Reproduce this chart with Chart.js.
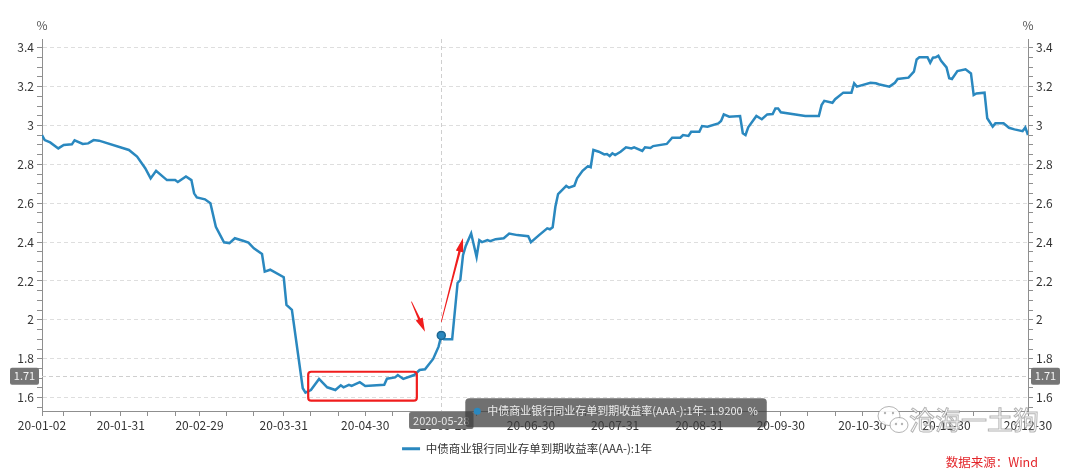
<!DOCTYPE html>
<html>
<head>
<meta charset="utf-8">
<script src="https://cdn.jsdelivr.net/npm/chart.js@4.4.1/dist/chart.umd.min.js"></script>
<style>
  html, body { margin: 0; padding: 0; background: #fff; }
  canvas { display: block; }
</style>
</head>
<body>
<canvas id="chart" width="1080" height="471"></canvas>
<script>
// Chart data (2020, MM-DD)
const year = 2020;
const seriesName = '中债商业银行同业存单到期收益率(AAA-):1年';

const dates = [
    '01-02', '01-03', '01-05', '01-08', '01-10', '01-13', '01-14', '01-17', '01-19', '01-21', '01-23',
    '02-03', '02-06', '02-09', '02-11', '02-13', '02-17', '02-20', '02-21', '02-24', '02-26', '02-27', '02-28',
    '03-02', '03-04', '03-06', '03-09', '03-11', '03-13', '03-16', '03-18', '03-20', '03-23', '03-24', '03-26', '03-31',
    '04-01', '04-03', '04-07', '04-08', '04-10', '04-13', '04-16', '04-19', '04-21', '04-22', '04-24', '04-25', '04-28', '04-30',
    '05-07', '05-08', '05-11', '05-12', '05-14', '05-18', '05-20', '05-22', '05-25', '05-27', '05-28', '05-29',
    '06-01', '06-03', '06-04', '06-05', '06-06', '06-08', '06-09', '06-10', '06-11', '06-12', '06-14', '06-15', '06-17', '06-20', '06-22', '06-25', '06-29', '06-30',
    '07-03', '07-06', '07-07', '07-08', '07-09', '07-10', '07-13', '07-14', '07-16', '07-17', '07-19', '07-21', '07-22', '07-23', '07-25', '07-27', '07-28', '07-29', '07-30', '07-31',
    '08-02', '08-04', '08-06', '08-07', '08-10', '08-11', '08-13', '08-14', '08-19', '08-21', '08-24', '08-25', '08-27', '08-28', '08-31',
    '09-01', '09-03', '09-07', '09-08', '09-09', '09-11', '09-15', '09-16', '09-17', '09-18', '09-21', '09-23', '09-25', '09-27', '09-28', '09-29', '09-30',
    '10-09', '10-14', '10-15', '10-16', '10-19', '10-20', '10-23', '10-26', '10-27', '10-28',
    '11-02', '11-04', '11-05', '11-09', '11-11', '11-12', '11-16', '11-18', '11-19', '11-20', '11-23', '11-24', '11-25', '11-26', '11-27', '11-28', '11-30',
    '12-01', '12-02', '12-04', '12-07', '12-09', '12-10', '12-11', '12-14', '12-15', '12-17', '12-18', '12-21', '12-23', '12-25', '12-28', '12-29', '12-30'
];

const yields = [
    2.950, 2.925, 2.913, 2.882, 2.900, 2.903, 2.924, 2.905, 2.908, 2.925, 2.922,
    2.874, 2.840, 2.780, 2.728, 2.767, 2.719, 2.719, 2.709, 2.738, 2.719, 2.651, 2.630,
    2.620, 2.600, 2.479, 2.399, 2.395, 2.420, 2.407, 2.397, 2.368, 2.339, 2.248, 2.258, 2.219,
    2.077, 2.051, 1.648, 1.625, 1.639, 1.696, 1.653, 1.639, 1.663, 1.653, 1.666, 1.660, 1.679, 1.660,
    1.666, 1.697, 1.704, 1.716, 1.696, 1.716, 1.742, 1.746, 1.799, 1.862, 1.920, 1.900,
    1.900, 2.190, 2.205, 2.333, 2.380, 2.444, 2.384, 2.323, 2.410, 2.400, 2.410, 2.405, 2.415, 2.420, 2.444, 2.436, 2.430, 2.400,
    2.436, 2.471, 2.466, 2.476, 2.582, 2.647, 2.689, 2.680, 2.690, 2.728, 2.767, 2.791, 2.785, 2.874, 2.865, 2.851, 2.853, 2.843, 2.857, 2.848,
    2.865, 2.888, 2.882, 2.888, 2.869, 2.888, 2.884, 2.894, 2.905, 2.937, 2.937, 2.951, 2.946, 2.968, 2.968,
    2.997, 2.994, 3.011, 3.023, 3.057, 3.045, 3.049, 2.960, 2.951, 2.991, 3.049, 3.032, 3.057, 3.059, 3.088, 3.088, 3.068,
    3.049, 3.049, 3.105, 3.127, 3.117, 3.135, 3.169, 3.169, 3.217, 3.200,
    3.220, 3.217, 3.212, 3.200, 3.220, 3.239, 3.246, 3.277, 3.340, 3.351, 3.351, 3.323, 3.349, 3.351, 3.359, 3.333, 3.299,
    3.243, 3.239, 3.280, 3.289, 3.268, 3.157, 3.165, 3.169, 3.037, 2.994, 3.011, 3.011, 2.988, 2.980, 2.971, 2.990, 2.951
];

// x axis ticks
const majorTickDates = ['01-02', '01-31', '02-29', '03-31', '04-30', '05-29', '06-30', '07-31', '08-31', '09-30', '10-30', '11-30', '12-30'];
const majorTickLabels = ['20-01-02', '20-01-31', '20-02-29', '20-03-31', '20-04-30', '20-05-29', '20-06-30', '20-07-31', '20-08-31', '20-09-30', '20-10-30', '20-11-30', '20-12-30'];
const minorTickDates = [
    '01-10', '01-20', '02-10', '02-20', '03-10', '03-20', '04-10', '04-20', '05-10', '05-20', '06-10', '06-20',
    '07-10', '07-20', '08-10', '08-20', '09-10', '09-20', '10-10', '10-20', '11-10', '11-20', '12-10', '12-20'
];

// y axis
const yMin = 1.531;
const yMax = 3.445;
const yLabelValues = [1.6, 1.8, 2, 2.2, 2.4, 2.6, 2.8, 3, 3.2, 3.4];

// hover state shown in the picture
const hoverDate = '05-28';
const crossValue = 1.71;

// red annotations (date, value)
const boxCorners = [['04-09', 1.733], ['05-19', 1.584]];
const arrowLines = [
    [['05-17', 2.094], ['05-22', 1.939]],
    [['05-28', 1.990], ['06-05', 2.421]]
];

const lineColor = '#2a88bf';
const axisColor = '#8f8f8f';
const gridColor = '#dedede';
const fontFamily = '"Noto Sans CJK SC", "Noto Sans", sans-serif';

Chart.defaults.font.family = fontFamily;
Chart.defaults.color = '#333';

function dayOf(md) {
    const [m, d] = md.split('-').map(Number);
    return (Date.UTC(year, m - 1, d) - Date.UTC(year, 0, 2)) / 86400000;
}

const points = dates.map((d, i) => ({ x: dayOf(d), y: yields[i] }));
const hoverIndex = dates.indexOf(hoverDate);

const majorDays = majorTickDates.map(dayOf);
const xTickDays = majorDays.concat(minorTickDates.map(dayOf)).sort((a, b) => a - b);

function isYMajor(v) {
    return yLabelValues.some(t => Math.abs(t - v) < 1e-6);
}

function yTicks(scale) {
    const ticks = [];
    for (let i = 31; i <= 68; i++) ticks.push({ value: Math.round(i * 5) / 100 });
    scale.ticks = ticks;
}

function roundBox(ctx, x, y, w, h, r, fill) {
    ctx.beginPath();
    ctx.roundRect(x, y, w, h, r);
    ctx.fillStyle = fill;
    ctx.fill();
}

function drawArrow(ctx, x0, y0, x1, y1) {
    const dx = x1 - x0, dy = y1 - y0, len = Math.hypot(dx, dy);
    const ux = dx / len, uy = dy / len, nx = -uy, ny = ux;
    const head = 14, hw = 3.8;
    const bx = x1 - ux * head, by = y1 - uy * head;
    ctx.beginPath();
    ctx.moveTo(x0 + nx * 0.4, y0 + ny * 0.4);
    ctx.lineTo(bx + nx * 1.2, by + ny * 1.2);
    ctx.lineTo(bx + nx * hw, by + ny * hw);
    ctx.lineTo(x1, y1);
    ctx.lineTo(bx - nx * hw, by - ny * hw);
    ctx.lineTo(bx - nx * 1.2, by - ny * 1.2);
    ctx.lineTo(x0 - nx * 0.4, y0 - ny * 0.4);
    ctx.closePath();
    ctx.fill();
}

// Crosshair, annotations, tooltip and watermark
const decorPlugin = {
    id: 'decor',
    beforeDatasetsDraw(chart) {
        const { ctx, chartArea: a, scales: { x, y } } = chart;
        const px = Math.round(x.getPixelForValue(dayOf(hoverDate))) + 0.5;
        const py = Math.round(y.getPixelForValue(crossValue)) + 0.5;
        ctx.save();
        ctx.strokeStyle = '#cfcfcf';
        ctx.lineWidth = 1;
        ctx.setLineDash([4, 3]);
        ctx.beginPath();
        ctx.moveTo(px, a.top);
        ctx.lineTo(px, a.bottom);
        ctx.moveTo(a.left, py);
        ctx.lineTo(a.right, py);
        ctx.stroke();
        ctx.restore();
    },
    afterDatasetsDraw(chart) {
        const { ctx, scales: { x, y } } = chart;
        ctx.save();
        ctx.strokeStyle = '#f01d1d';
        ctx.fillStyle = '#f01d1d';
        ctx.lineWidth = 2.2;
        const x0 = x.getPixelForValue(dayOf(boxCorners[0][0]));
        const y0 = y.getPixelForValue(boxCorners[0][1]);
        const x1 = x.getPixelForValue(dayOf(boxCorners[1][0]));
        const y1 = y.getPixelForValue(boxCorners[1][1]);
        ctx.beginPath();
        ctx.roundRect(x0, y0, x1 - x0, y1 - y0, 3);
        ctx.stroke();
        arrowLines.forEach(([from, to]) => {
            drawArrow(ctx,
                x.getPixelForValue(dayOf(from[0])), y.getPixelForValue(from[1]),
                x.getPixelForValue(dayOf(to[0])), y.getPixelForValue(to[1]));
        });
        ctx.restore();
    },
    afterDraw(chart) {
        const { ctx, chartArea: a, scales: { x, y } } = chart;
        const px = x.getPixelForValue(dayOf(hoverDate));
        const py = y.getPixelForValue(crossValue);
        ctx.save();

        // unit labels
        ctx.font = '12px ' + fontFamily;
        ctx.fillStyle = '#555';
        ctx.textAlign = 'center';
        ctx.textBaseline = 'middle';
        ctx.fillText('%', a.left, 25);
        ctx.fillText('%', a.right, 25);

        // crosshair value boxes
        ctx.font = '11px ' + fontFamily;
        const crossText = crossValue.toFixed(2);
        roundBox(ctx, a.left - 32, py - 8.5, 29, 17, 2, '#767676');
        roundBox(ctx, a.right + 3, py - 8.5, 29, 17, 2, '#767676');
        ctx.fillStyle = '#f2f2f2';
        ctx.fillText(crossText, a.left - 17.5, py);
        ctx.fillText(crossText, a.right + 17.5, py);

        // date box on the x axis
        const dateText = year + '-' + hoverDate;
        const dw = ctx.measureText(dateText).width + 8;
        roundBox(ctx, px - dw / 2, a.bottom + 1, dw, 17, 2, '#737373');
        ctx.fillStyle = '#e6e6e6';
        ctx.fillText(dateText, px, a.bottom + 9.5);

        // tooltip
        const tipText = seriesName + ': ' + yields[hoverIndex].toFixed(4) + '  %';
        const tx = px + 24, ty = py + 22;
        const tw = ctx.measureText(tipText).width + 31;
        roundBox(ctx, tx, ty, tw, 29, 4, 'rgba(62, 62, 62, 0.74)');
        ctx.beginPath();
        ctx.arc(tx + 12, ty + 13, 3.5, 0, Math.PI * 2);
        ctx.fillStyle = lineColor;
        ctx.fill();
        ctx.fillStyle = '#ececec';
        ctx.textAlign = 'left';
        ctx.fillText(tipText, tx + 22, ty + 13);

        // watermark
        ctx.lineWidth = 1;
        ctx.strokeStyle = 'rgba(130, 130, 130, 0.6)';
        ctx.fillStyle = 'rgba(255, 255, 255, 0.9)';
        ctx.beginPath();
        ctx.ellipse(889, 416, 11, 9.5, 0, 0, Math.PI * 2);
        ctx.fill();
        ctx.stroke();
        ctx.beginPath();
        ctx.ellipse(899, 425, 9, 7.5, 0, 0, Math.PI * 2);
        ctx.fill();
        ctx.stroke();
        ctx.fillStyle = 'rgba(130, 130, 130, 0.6)';
        [[885, 413], [893, 413], [896, 424], [902, 424]].forEach(([ex, ey]) => {
            ctx.beginPath();
            ctx.arc(ex, ey, 1.2, 0, Math.PI * 2);
            ctx.fill();
        });
        ctx.font = '26px ' + fontFamily;
        ctx.fillStyle = 'rgba(255, 255, 255, 0.88)';
        ctx.fillText('沧海一土狗', 909, 420);
        ctx.strokeText('沧海一土狗', 909, 420);

        // source
        ctx.font = '12.5px ' + fontFamily;
        ctx.fillStyle = '#e3262b';
        ctx.textAlign = 'right';
        ctx.fillText('数据来源：Wind', 1038, 462);
        ctx.restore();
    }
};

const ctx = document.getElementById('chart').getContext('2d');
new Chart(ctx, {
    type: 'line',
    data: {
        datasets: [{
            label: seriesName,
            data: points,
            yAxisID: 'y',
            borderColor: lineColor,
            backgroundColor: lineColor,
            borderWidth: 2.5,
            tension: 0,
            pointRadius: c => c.dataIndex === hoverIndex ? 4 : 0,
            pointBackgroundColor: lineColor,
            pointBorderColor: '#1d6792',
            pointBorderWidth: 1.5
        }]
    },
    options: {
        responsive: false,
        animation: false,
        events: [],
        layout: { padding: { top: 39, right: 26, bottom: 6.5, left: 0 } },
        scales: {
            x: {
                type: 'linear',
                min: dayOf(majorTickDates[0]),
                max: dayOf(majorTickDates[majorTickDates.length - 1]),
                afterBuildTicks: s => { s.ticks = xTickDays.map(v => ({ value: v })); },
                afterFit: s => { s.height = 24; },
                grid: { drawOnChartArea: false, tickLength: 5, tickColor: axisColor },
                border: { color: axisColor },
                ticks: {
                    autoSkip: false,
                    maxRotation: 0,
                    padding: 2,
                    color: '#333',
                    font: { size: 12 },
                    callback: v => {
                        const i = majorDays.indexOf(v);
                        return i >= 0 ? majorTickLabels[i] : '';
                    }
                }
            },
            y: {
                position: 'left',
                min: yMin,
                max: yMax,
                afterBuildTicks: yTicks,
                afterFit: s => { s.width = 42; },
                grid: {
                    color: c => isYMajor(c.tick.value) ? gridColor : 'rgba(0,0,0,0)',
                    tickColor: axisColor,
                    tickLength: 5
                },
                border: { color: axisColor, dash: [4, 3] },
                ticks: {
                    autoSkip: false,
                    padding: 3,
                    color: '#333',
                    font: { size: 12 },
                    callback: v => isYMajor(v) ? String(Math.round(v * 10) / 10) : ''
                }
            },
            y2: {
                position: 'right',
                min: yMin,
                max: yMax,
                afterBuildTicks: yTicks,
                afterFit: s => { s.width = 26; },
                grid: { drawOnChartArea: false, tickColor: axisColor, tickLength: 5 },
                border: { color: axisColor },
                ticks: {
                    autoSkip: false,
                    padding: 3,
                    color: '#333',
                    font: { size: 12 },
                    callback: v => isYMajor(v) ? String(Math.round(v * 10) / 10) : ''
                }
            }
        },
        plugins: {
            legend: {
                position: 'bottom',
                labels: {
                    boxWidth: 18,
                    boxHeight: 3,
                    padding: 8,
                    color: '#333',
                    font: { size: 11.5 },
                    generateLabels: chart => Chart.defaults.plugins.legend.labels.generateLabels(chart)
                        .map(l => Object.assign(l, { lineWidth: 0 }))
                }
            },
            tooltip: { enabled: false }
        }
    },
    plugins: [decorPlugin]
});
</script>
</body>
</html>
